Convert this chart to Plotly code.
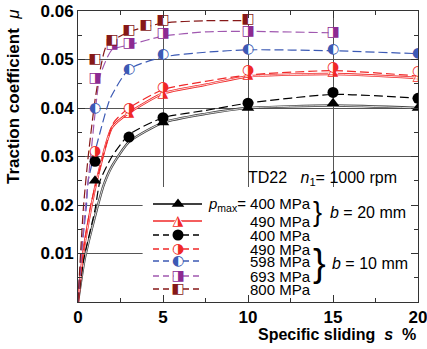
import plotly.graph_objects as go

# ---------------- data ----------------
# measured points: specific sliding s (%) and traction coefficient mu
s_b20_400 = [1, 5, 10, 15, 20]
mu_b20_400 = [0.025, 0.037, 0.040, 0.041, 0.040]
s_b20_490 = [3, 5, 10, 15, 20]
mu_b20_490 = [0.039, 0.043, 0.047, 0.0475, 0.0465]
s_b10_400 = [1, 3, 5, 10, 15, 20]
mu_b10_400 = [0.029, 0.034, 0.038, 0.041, 0.0432, 0.042]
s_b10_490 = [1, 3, 5, 10, 15, 20]
mu_b10_490 = [0.031, 0.040, 0.0443, 0.0478, 0.0483, 0.0475]
s_b10_598 = [1, 3, 5, 10, 15, 20]
mu_b10_598 = [0.040, 0.048, 0.051, 0.052, 0.052, 0.0512]
s_b10_693 = [1, 2, 3, 5, 10, 15]
mu_b10_693 = [0.046, 0.053, 0.0532, 0.0553, 0.0558, 0.0555]
s_b10_800 = [1, 2, 3, 4, 5, 10]
mu_b10_800 = [0.050, 0.054, 0.056, 0.0571, 0.0581, 0.0582]

# fitted curves
cs_b20_400 = [0, 0.4, 1.1, 1.5, 2, 3, 5, 7.5, 10, 15, 20]
cm_b20_400 = [0, 0.009, 0.019, 0.024, 0.028, 0.033, 0.037, 0.0388, 0.040, 0.0405, 0.040]
cs_b20_490 = [0, 0.3, 0.8, 1.1, 2, 3, 5, 7.5, 10, 15, 20]
cm_b20_490 = [0, 0.010, 0.020, 0.025, 0.036, 0.039, 0.043, 0.0448, 0.0465, 0.047, 0.0462]
cs_b10_400 = [0, 0.35, 1.0, 1.3, 2, 3, 5, 7.5, 10, 15, 20]
cm_b10_400 = [0, 0.009, 0.019, 0.025, 0.030, 0.0345, 0.038, 0.0395, 0.041, 0.0428, 0.042]
cs_b10_490 = [0, 0.3, 0.75, 1.1, 2.1, 3, 5, 7.5, 10, 15, 20]
cm_b10_490 = [0, 0.010, 0.020, 0.025, 0.037, 0.040, 0.0438, 0.0455, 0.0468, 0.0477, 0.0466]
cs_b10_598 = [0, 0.2, 0.5, 0.6, 1.3, 1.9, 3, 5, 7.5, 10, 15, 20]
cm_b10_598 = [0, 0.010, 0.020, 0.025, 0.035, 0.042, 0.048, 0.0505, 0.0515, 0.052, 0.0518, 0.0512]
cs_b10_693 = [0, 0.2, 0.45, 0.6, 1.1, 1.3, 2, 3, 5, 7.5, 10, 15]
cm_b10_693 = [0, 0.010, 0.020, 0.025, 0.042, 0.0467, 0.052, 0.053, 0.0548, 0.0557, 0.0558, 0.0555]
cs_b10_800 = [0, 0.15, 0.33, 0.6, 1.0, 1.3, 1.7, 3, 5, 7.5, 10]
cm_b10_800 = [0, 0.010, 0.020, 0.030, 0.0416, 0.0478, 0.053, 0.0557, 0.0575, 0.058, 0.058]

x_ticks = [0, 5, 10, 15, 20]
x_tick_labels = ["0", "5", "10", "15", "20"]
y_ticks = [0.01, 0.02, 0.03, 0.04, 0.05, 0.06]
y_tick_labels = ["0.01", "0.02", "0.03", "0.04", "0.05", "0.06"]

legend_labels = ["<i>p</i><sub>max</sub>= 400 MPa", "490 MPa", "400 MPa", "490 MPa",
                 "598 MPa", "693 MPa", "800 MPa"]

# ---------------- styles ----------------
BLACK = "#000000"
RED = "#f02828"
BLUE = "#3c5ab4"
PURPLE = "#8c2a92"
PURPLE_L = "#a058b0"
DRED = "#861818"
FONT = "Liberation Sans, Arial, sans-serif"
GLYPH_FONT = "DejaVu Sans"
DASH = "9px,4px"

fig = go.Figure()


def curve(xs, ys, color, dash, double=False, xa="x", ya="y", shape="spline"):
    if double:
        fig.add_trace(go.Scatter(x=xs, y=ys, mode="lines", xaxis=xa, yaxis=ya,
                                 line=dict(color=color, width=2.4, shape=shape, smoothing=0.6),
                                 hoverinfo="skip", showlegend=False))
        fig.add_trace(go.Scatter(x=xs, y=ys, mode="lines", xaxis=xa, yaxis=ya,
                                 line=dict(color="white", width=0.8, shape=shape, smoothing=0.6),
                                 hoverinfo="skip", showlegend=False))
    else:
        fig.add_trace(go.Scatter(x=xs, y=ys, mode="lines", xaxis=xa, yaxis=ya,
                                 line=dict(color=color, width=1.2, dash=dash, shape=shape,
                                           smoothing=0.6),
                                 hoverinfo="skip", showlegend=False))


def solid_marker(xs, ys, color, symbol, size, xa="x", ya="y"):
    fig.add_trace(go.Scatter(x=xs, y=ys, mode="markers", xaxis=xa, yaxis=ya,
                             marker=dict(color=color, symbol=symbol, size=size, line=dict(width=0)),
                             hoverinfo="skip", showlegend=False))


def half_marker(xs, ys, color, glyph, mask_symbol, size, xa="x", ya="y"):
    fig.add_trace(go.Scatter(x=xs, y=ys, mode="markers", xaxis=xa, yaxis=ya,
                             marker=dict(color="white", symbol=mask_symbol, size=size - 1,
                                         line=dict(width=0)),
                             hoverinfo="skip", showlegend=False))
    fig.add_trace(go.Scatter(x=xs, y=ys, mode="text", xaxis=xa, yaxis=ya,
                             text=[glyph] * len(xs), textposition="middle center",
                             textfont=dict(family=GLYPH_FONT, size=size + 4, color=color),
                             hoverinfo="skip", showlegend=False))


# curves
curve(cs_b20_400, cm_b20_400, "#404040", None, double=True)
curve(cs_b20_490, cm_b20_490, RED, None, double=True)
curve(cs_b10_400, cm_b10_400, BLACK, DASH)
curve(cs_b10_490, cm_b10_490, RED, DASH)
curve(cs_b10_598, cm_b10_598, BLUE, DASH)
curve(cs_b10_693, cm_b10_693, PURPLE_L, DASH)
curve(cs_b10_800, cm_b10_800, DRED, DASH)

# markers
solid_marker(s_b20_400, mu_b20_400, BLACK, "triangle-up", 11)
half_marker(s_b20_490, mu_b20_490, RED, "\u25EE", "triangle-up", 10)
solid_marker(s_b10_400, mu_b10_400, BLACK, "circle", 11)
half_marker(s_b10_490, mu_b10_490, RED, "\u25D1", "circle", 10)
half_marker(s_b10_598, mu_b10_598, BLUE, "\u25D0", "circle", 10)
half_marker(s_b10_693, mu_b10_693, PURPLE, "\u25E8", "square", 10)
half_marker(s_b10_800, mu_b10_800, DRED, "\u25E7", "square", 10)

# ---------------- layout ----------------
W, H = 427, 349
L, R, T, B = 78, 9, 11, 47
PW, PH = W - L - R, H - T - B

# ---------------- legend (drawn in an overlay axis measured in plot pixels) ----------------
rows = [98, 81, 67, 53, 41, 26, 13]
lx0, lx1, lxm = 75, 124, 100
leg = [
    (BLACK, None, "solid", "triangle-up", None),
    (RED, None, "half", "triangle-up", "\u25EE"),
    (BLACK, "6px,4px", "solid", "circle", None),
    (RED, "6px,4px", "half", "circle", "\u25D1"),
    (BLUE, "6px,4px", "half", "circle", "\u25D0"),
    (PURPLE_L, "6px,4px", "half", "square", "\u25E8"),
    (DRED, "6px,4px", "half", "square", "\u25E7"),
]
for (col, dash, kind, sym, glyph), ry in zip(leg, rows):
    fig.add_trace(go.Scatter(x=[lx0, lx1], y=[ry, ry], mode="lines", xaxis="x2", yaxis="y2",
                             line=dict(color=col, width=1.6, dash=dash),
                             hoverinfo="skip", showlegend=False))
    mcol = PURPLE if col == PURPLE_L else col
    if kind == "solid":
        solid_marker([lxm], [ry], mcol, sym, 11, "x2", "y2")
    else:
        half_marker([lxm], [ry], mcol, glyph, sym, 10, "x2", "y2")


def px(xp):
    return (xp - L) / PW


def py(yp):
    return (H - B - yp) / PH


axis_common = dict(showline=True, linecolor="#333333", linewidth=1, mirror="ticks",
                   ticks="inside", ticklen=7, tickcolor="#333333", tickwidth=1,
                   showgrid=True, gridcolor="#555555", gridwidth=1, zeroline=False,
                   automargin=False, ticklabeloverflow="allow",
                   tickfont=dict(family=FONT, size=17, color="black", weight="bold"))

fig.update_layout(
    width=W, height=H, margin=dict(l=L, r=R, t=T, b=B),
    paper_bgcolor="white", plot_bgcolor="white",
    xaxis=dict(range=[0, 20], tickvals=x_ticks, ticktext=x_tick_labels,
               minor=dict(dtick=2.5, ticks="inside", ticklen=4, tickcolor="#333333", showgrid=False),
               **axis_common),
    yaxis=dict(range=[0, 0.06], tickvals=y_ticks, ticktext=y_tick_labels,
               minor=dict(dtick=0.005, ticks="inside", ticklen=4, tickcolor="#333333", showgrid=False),
               **axis_common),
    xaxis2=dict(overlaying="x", range=[0, PW], visible=False, fixedrange=True),
    yaxis2=dict(overlaying="y", range=[0, PH], visible=False, fixedrange=True),
    showlegend=False,
    shapes=[dict(type="rect", xref="x", yref="y", x0=3.8, x1=19.95, y0=0.0003, y1=0.0237,
                 fillcolor="white", line=dict(width=0), layer="between")],
)

ann = []
ann.append(dict(text="<b>Traction coefficient</b>  <i>μ</i>", xref="paper", yref="paper",
                x=px(13.5), y=py(7), xanchor="center", yanchor="top", textangle=-90,
                showarrow=False, font=dict(family=FONT, size=17, color="black")))
ann.append(dict(text="<b>Specific sliding  <i>s</i>  %</b>", xref="paper", yref="paper",
                x=px(418), y=py(334), xanchor="right", yanchor="middle",
                showarrow=False, font=dict(family=FONT, size=16, color="black")))
ann.append(dict(text="TD22   <i>n</i><sub>1</sub>= 1000 rpm", xref="paper", yref="paper",
                x=px(246), y=py(178), xanchor="left", yanchor="middle",
                showarrow=False, font=dict(family=FONT, size=16, color="black")))
label_rows_px = [204, 221, 235, 249, 261, 276, 289]
for lab, yp in zip(legend_labels, label_rows_px):
    ann.append(dict(text=lab, xref="paper", yref="paper", x=px(313), y=py(yp),
                    xanchor="right", yanchor="middle", showarrow=False,
                    font=dict(family=FONT, size=15, color="black")))
ann.append(dict(text="}", xref="paper", yref="paper", x=px(311), y=py(212),
                xanchor="left", yanchor="middle", showarrow=False,
                font=dict(family=FONT, size=27, color="black")))
ann.append(dict(text="}", xref="paper", yref="paper", x=px(311), y=py(263),
                xanchor="left", yanchor="middle", showarrow=False,
                font=dict(family=FONT, size=38, color="black")))
ann.append(dict(text="<i>b</i> = 20 mm", xref="paper", yref="paper", x=px(328), y=py(212),
                xanchor="left", yanchor="middle", showarrow=False,
                font=dict(family=FONT, size=16, color="black")))
ann.append(dict(text="<i>b</i> = 10 mm", xref="paper", yref="paper", x=px(330), y=py(263),
                xanchor="left", yanchor="middle", showarrow=False,
                font=dict(family=FONT, size=16, color="black")))
fig.update_layout(annotations=ann)

# remove the page's default 8px body margin so the figure sits at the window origin
fig.write_html("out.html", config={"displayModeBar": False, "staticPlot": True},
               post_script="document.body.style.margin='0';")
